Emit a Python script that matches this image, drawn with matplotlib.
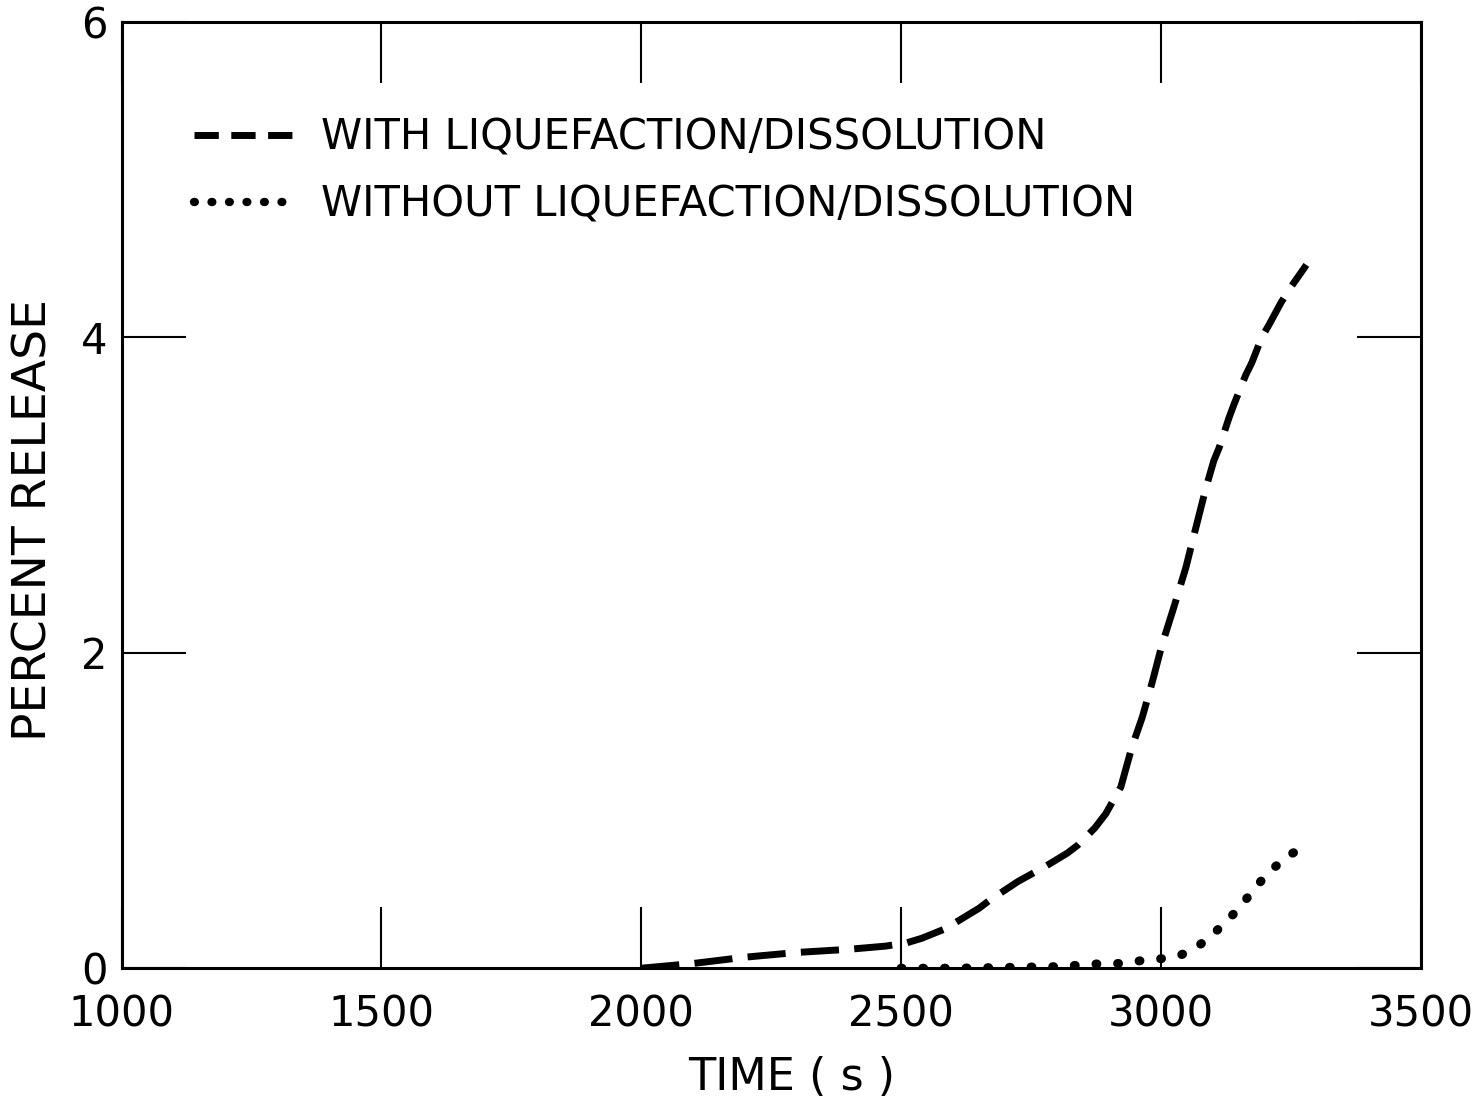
import matplotlib.pyplot as plt
from matplotlib.lines import Line2D

# Data
time_with = [2000, 2100, 2200, 2300, 2400, 2470, 2510, 2540, 2585, 2610, 2650, 2670,
             2725, 2780, 2820, 2840, 2873, 2894, 2923, 2944, 2964, 2983, 3002, 3025,
             3048, 3067, 3087, 3102, 3112, 3131, 3140, 3163, 3175, 3194, 3208, 3231,
             3246, 3280]
release_with = [0.0, 0.03, 0.07, 0.10, 0.12, 0.14, 0.16, 0.19, 0.25, 0.30, 0.38, 0.43,
                0.55, 0.65, 0.73, 0.78, 0.89, 0.98, 1.15, 1.40, 1.59, 1.81, 2.05, 2.29,
                2.54, 2.79, 3.05, 3.22, 3.30, 3.49, 3.57, 3.76, 3.84, 4.00, 4.08, 4.22,
                4.30, 4.46]

time_without = [2500, 2600, 2700, 2800, 2845, 2890, 2930, 2965, 3000, 3036, 3067, 3096,
                3123, 3148, 3167, 3192, 3215, 3248, 3283]
release_without = [0.0, 0.0, 0.005, 0.01, 0.02, 0.03, 0.03, 0.05, 0.06, 0.08, 0.13, 0.20,
                   0.29, 0.37, 0.45, 0.55, 0.63, 0.72, 0.78]

x_ticks = [1000, 1500, 2000, 2500, 3000, 3500]
y_ticks = [0, 2, 4, 6]

plt.rcParams['font.family'] = ['DejaVu Sans']

fig = plt.figure(figsize=(14.83, 11.04), dpi=100)
ax = fig.add_axes([0.082, 0.123, 0.876, 0.857])

ax.plot(time_with, release_with, color='black', linewidth=5,
        linestyle=(0, (5.5, 2.2)))
ax.plot(time_without, release_without, color='black', linewidth=6.5,
        linestyle=(0, (0.1, 2.3)), dash_capstyle='round')

ax.set_xlim(1000, 3500)
ax.set_ylim(0, 6)
ax.set_xticks(x_ticks)
ax.set_yticks(y_ticks)

for side in ['left', 'right', 'top', 'bottom']:
    ax.spines[side].set_linewidth(2.2)

ax.tick_params(axis='x', direction='in', length=44, width=1.5, top=True,
               labelsize=30, pad=18)
ax.tick_params(axis='y', direction='in', length=46, width=1.5, right=True,
               labelsize=30, pad=10)

ax.set_xlabel('TIME ( s )', fontsize=32)
ax.set_ylabel('PERCENT RELEASE', fontsize=34)
ax.xaxis.set_label_coords(0.516, -0.093)
ax.yaxis.set_label_coords(-0.05, 0.474)

# legend keys drawn with shorter dashes, like the original key
handles = [
    Line2D([], [], color='black', linewidth=5, linestyle=(0, (3.5, 1.8))),
    Line2D([], [], color='black', linewidth=6, linestyle=(0, (0.1, 2.0)),
           dash_capstyle='round'),
]
labels = ['WITH LIQUEFACTION/DISSOLUTION', 'WITHOUT LIQUEFACTION/DISSOLUTION']
ax.legend(handles, labels, loc='upper left', bbox_to_anchor=(0.027, 0.94),
          frameon=False, fontsize=30, handlelength=2.5, handletextpad=0.55,
          labelspacing=0.6)

fig.savefig('out.png', dpi=100)
